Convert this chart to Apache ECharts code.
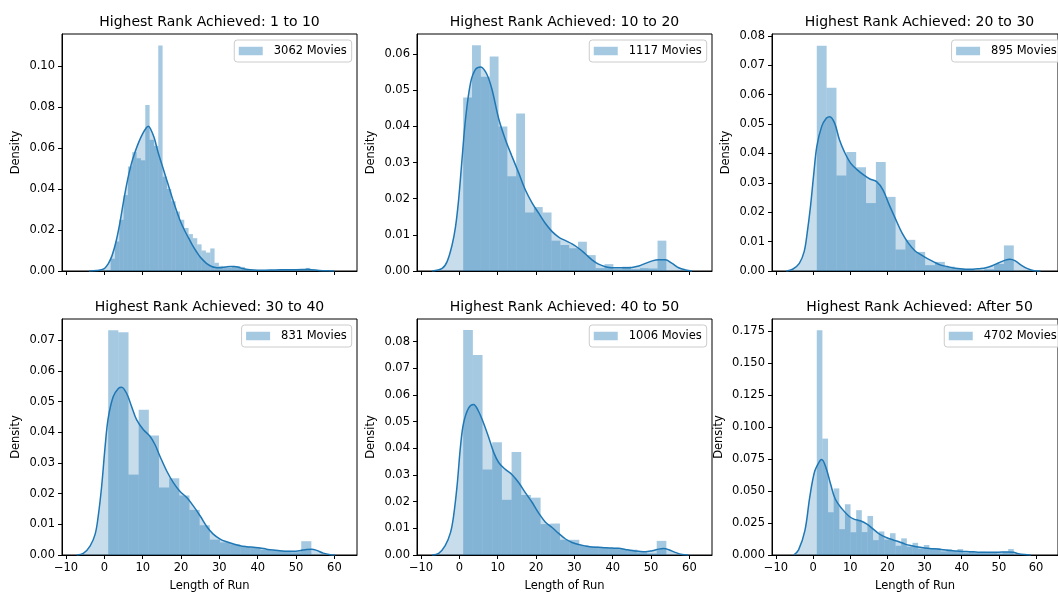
<!DOCTYPE html>
<html>
<head>
<meta charset="utf-8">
<script src="https://cdn.jsdelivr.net/npm/echarts@6/dist/echarts.min.js"></script>
<style>
  html, body { margin: 0; padding: 0; background: #fff; }
  #chart { width: 1058px; height: 593px; }
</style>
</head>
<body>
<div id="chart"></div>
<script>
// ---- data -------------------------------------------------------------
const panelTitles = [
  'Highest Rank Achieved: 1 to 10',
  'Highest Rank Achieved: 10 to 20',
  'Highest Rank Achieved: 20 to 30',
  'Highest Rank Achieved: 30 to 40',
  'Highest Rank Achieved: 40 to 50',
  'Highest Rank Achieved: After 50'
];
const legendLabels = ['3062 Movies', '1117 Movies', '895 Movies', '831 Movies', '1006 Movies', '4702 Movies'];

// histogram bin range per panel (equal-width bins between lo and hi)
const binLo = [0.5, 1, 1, 1, 1, 1];
const binHi = [54.74, 54, 54, 54, 54, 54];

// histogram densities per bin
const hist1 = [0.0005, 0.006, 0.0144, 0.025, 0.037, 0.051, 0.058, 0.055, 0.054, 0.081,
  0.064, 0.061, 0.110, 0.046, 0.040, 0.034, 0.029, 0.025, 0.021, 0.018,
  0.016, 0.013, 0.010, 0.009, 0.011, 0.004, 0.0025, 0.0018, 0.0015, 0.002,
  0.0024, 0.002, 0.0008, 0.0005, 0.0004, 0.0003, 0.0003, 0.0002, 0.0004, 0.0005,
  0.0006, 0.0005, 0.0006, 0.0007, 0.0005, 0.0004, 0.0015, 0.0003];
const hist2 = [0.048, 0.0625, 0.0538, 0.0594, 0.040, 0.0262, 0.0436, 0.0162, 0.0177, 0.0162,
  0.0084, 0.0072, 0.0063, 0.0081, 0.0044, 0.0008, 0.0019, 0.0005, 0.0012, 0.0005,
  0.0008, 0.0007, 0.0084];
const hist3 = [0.0766, 0.0623, 0.0325, 0.0405, 0.0353, 0.0231, 0.0371, 0.0252, 0.0073, 0.0106,
  0.0065, 0.002, 0.0031, 0.0015, 0.0009, 0.0006, 0.0, 0.0006, 0.0024, 0.0087];
const hist4 = [0.0732, 0.0726, 0.0262, 0.0473, 0.0389, 0.0220, 0.0250, 0.0194, 0.0147, 0.0097,
  0.0050, 0.0041, 0.0035, 0.0028, 0.0024, 0.0017, 0.0015, 0.0014, 0.0009, 0.0045];
const hist5 = [0.0844, 0.075, 0.0321, 0.0423, 0.0207, 0.0386, 0.0225, 0.0215, 0.0116, 0.0118,
  0.0057, 0.0057, 0.0035, 0.0032, 0.0029, 0.0027, 0.0022, 0.002, 0.001, 0.0006, 0.0053];
const hist6 = [0.1755, 0.0909, 0.0334, 0.052, 0.0202, 0.0396, 0.0178, 0.035, 0.0179, 0.0305,
  0.0116, 0.0184, 0.012, 0.017, 0.0072, 0.013, 0.0065, 0.0095, 0.005, 0.0078,
  0.0055, 0.0054, 0.0028, 0.0045, 0.003, 0.0047, 0.0018, 0.0028, 0.002, 0.0025,
  0.0016, 0.0016, 0.0012, 0.0025, 0.0047];

// kernel density estimate, [length of run, density]
const kde1 = [[-4,0],[-2,0.0002],[0,0.0012],[1,0.0035],[2,0.0075],[3,0.014],[4,0.023],[5,0.034],
  [6,0.044],[7,0.052],[8,0.058],[9,0.063],[10,0.067],[11,0.070],[11.5,0.0706],[12,0.0695],
  [13,0.065],[14,0.058],[15,0.052],[16,0.046],[17,0.040],[18,0.034],[19,0.0285],[20,0.0235],
  [21,0.0195],[22,0.016],[23,0.0125],[24,0.0095],[25,0.0068],[26,0.0048],[27,0.0032],[28,0.0022],
  [29,0.0017],[30,0.0016],[31,0.0018],[32,0.0021],[33,0.0022],[34,0.0022],[35,0.0018],[36,0.0012],
  [38,0.0006],[40,0.0004],[42,0.0004],[44,0.0005],[46,0.0006],[48,0.0006],[50,0.0006],[52,0.0007],
  [53,0.0008],[54,0.0006],[56,0.0003],[58,0.0001],[60,0]];
const kde2 = [[-7.1,0],[-4.5,0.0007],[-3.2,0.0026],[-1.9,0.0072],[-1.0,0.0123],[-0.2,0.0197],
  [0.7,0.031],[1.6,0.042],[2.9,0.052],[4.2,0.0558],[5.6,0.0565],[7.2,0.0544],[8.5,0.0503],
  [10.3,0.042],[12.0,0.0364],[13.7,0.0318],[15.5,0.0271],[17.2,0.0225],[19.0,0.0188],[20.7,0.016],
  [22.4,0.0132],[24.2,0.0109],[25.9,0.0094],[27.7,0.0084],[29.4,0.0075],[31.1,0.0063],[32.9,0.0047],
  [34.6,0.0031],[36.3,0.0019],[38.1,0.0012],[39.8,0.0009],[41.6,0.0009],[43.3,0.0009],[45.0,0.001],
  [46.8,0.0014],[48.5,0.0021],[50.3,0.0028],[52.0,0.0031],[53.7,0.0031],[55.5,0.0021],[57.2,0.0009],
  [59.0,0.0003],[60.7,0]];
const kde3 = [[-7.2,0],[-5.5,0.0006],[-3.7,0.0026],[-2.4,0.0066],[-1.6,0.0128],[-0.7,0.0219],
  [0.2,0.0332],[1.0,0.0423],[2.3,0.0491],[3.6,0.052],[4.5,0.0525],[5.8,0.0503],[7.1,0.0446],
  [8.4,0.0406],[10.1,0.0367],[11.9,0.0344],[13.6,0.0327],[15.3,0.0313],[17.1,0.0304],[18.8,0.0276],
  [20.5,0.0225],[22.3,0.0174],[24.0,0.0128],[25.7,0.0094],[27.4,0.0069],[29.2,0.0054],[30.9,0.0041],
  [32.6,0.003],[34.4,0.002],[36.1,0.0015],[37.8,0.001],[39.6,0.0008],[41.3,0.0006],[43.0,0.0006],
  [44.8,0.0008],[46.5,0.0011],[48.2,0.0018],[50.0,0.0028],[51.7,0.0037],[53.0,0.004],[54.3,0.0035],
  [56.0,0.002],[57.7,0.0008],[59.5,0.0001],[61.2,0]];
const kde4 = [[-7.2,0],[-5.5,0.0005],[-3.7,0.003],[-2.4,0.0068],[-1.6,0.0127],[-0.7,0.0225],
  [0.2,0.0354],[1.0,0.0446],[2.3,0.0516],[3.7,0.0543],[4.5,0.0547],[5.8,0.0527],[7.1,0.0484],
  [8.4,0.0441],[10.2,0.0408],[11.9,0.0387],[13.2,0.036],[14.5,0.0322],[16.3,0.0273],[18.0,0.0236],
  [19.7,0.0208],[21.5,0.0187],[23.2,0.016],[25.0,0.0127],[26.7,0.0093],[28.4,0.0068],[30.2,0.0052],
  [31.9,0.0043],[33.7,0.0036],[35.4,0.003],[37.1,0.0027],[38.9,0.0025],[40.6,0.0023],[42.3,0.0019],
  [44.1,0.0016],[45.8,0.0014],[47.6,0.0012],[49.3,0.0012],[51.0,0.0014],[52.8,0.0018],[54.1,0.0019],
  [55.4,0.0015],[57.1,0.0006],[58.9,0.0001],[60.2,0]];
const kde5 = [[-7.1,0],[-5.4,0.0006],[-3.7,0.0035],[-2.3,0.0085],[-1.5,0.0147],[-0.6,0.0259],
  [0.3,0.0408],[1.1,0.0495],[2.4,0.0551],[3.7,0.0564],[5.0,0.0539],[6.3,0.0495],[7.7,0.0439],
  [9.0,0.0383],[10.3,0.0346],[12.0,0.0321],[13.7,0.0302],[15.5,0.0271],[17.2,0.0234],[19.0,0.0197],
  [20.7,0.0157],[22.4,0.0124],[24.2,0.0103],[25.9,0.0081],[27.7,0.006],[29.4,0.0047],[31.1,0.0039],
  [32.9,0.0034],[34.6,0.003],[36.3,0.0029],[38.1,0.0027],[39.8,0.0026],[41.6,0.0025],[43.3,0.0021],
  [45.0,0.0017],[46.8,0.0014],[48.5,0.0012],[50.3,0.0016],[52.0,0.0022],[53.3,0.0024],[54.6,0.002],
  [56.3,0.001],[58.1,0.0002],[59.8,0]];
const kde6 = [[-5.2,0],[-3.9,0.004],[-2.2,0.019],[-0.9,0.045],[0.4,0.065],[1.7,0.073],[2.3,0.0745],
  [3.5,0.068],[4.75,0.055],[6.0,0.0435],[7.8,0.036],[9.6,0.0305],[11.0,0.028],[12.7,0.0267],
  [14.5,0.0241],[16.2,0.0202],[17.9,0.0163],[19.7,0.0137],[21.4,0.0119],[23.1,0.0104],[24.8,0.0085],
  [26.6,0.0072],[28.3,0.0062],[30.0,0.0054],[31.8,0.0049],[33.5,0.0047],[35.2,0.0041],[37.0,0.0036],
  [38.7,0.0031],[40.4,0.0028],[42.2,0.0026],[43.9,0.0023],[45.6,0.0021],[47.4,0.0021],[49.1,0.0021],
  [50.8,0.0023],[52.6,0.0023],[53.9,0.0021],[55.2,0.001],[56.9,0.0003],[58.6,0]];

// axis ticks
const xTicks = [-10, 0, 10, 20, 30, 40, 50, 60];
const yTicks1 = [0, 0.02, 0.04, 0.06, 0.08, 0.10];
const yTicks2 = [0, 0.01, 0.02, 0.03, 0.04, 0.05, 0.06];
const yTicks3 = [0, 0.01, 0.02, 0.03, 0.04, 0.05, 0.06, 0.07, 0.08];
const yTicks4 = [0, 0.01, 0.02, 0.03, 0.04, 0.05, 0.06, 0.07];
const yTicks5 = [0, 0.01, 0.02, 0.03, 0.04, 0.05, 0.06, 0.07, 0.08];
const yTicks6 = [0, 0.025, 0.05, 0.075, 0.1, 0.125, 0.15, 0.175];
const yDecimals = [2, 2, 2, 2, 2, 3];
const yMax = [0.1156, 0.0656, 0.0806, 0.0769, 0.0885, 0.1843];
const xMin = -11.05, xMax = 65.9;

// ---- layout ----------------------------------------------------------
const FONT = 'DejaVu Sans';
const colLeft = [62, 417, 772];
const rowTop = [34, 319];
const W = 295, H = 237, CW = 1058;
const nameGaps = [40, 40, 40, 40, 40, 47];
const BAR_FILL = 'rgba(31,119,180,0.4)';
const KDE_FILL = 'rgba(31,119,180,0.25)';
const LINE = '#1f77b4';

const hists = [hist1, hist2, hist3, hist4, hist5, hist6];
const kdes = [kde1, kde2, kde3, kde4, kde5, kde6];
const yTickSets = [yTicks1, yTicks2, yTicks3, yTicks4, yTicks5, yTicks6];

function binsOf(i) {
  const h = hists[i];
  const w = (binHi[i] - binLo[i]) / h.length;
  return h.map((v, k) => [binLo[i] + k * w, binLo[i] + (k + 1) * w, v]);
}
const fmtX = v => (v < 0 ? '\u2212' + Math.abs(v) : String(v));

const grid = [], xAxis = [], yAxis = [], series = [], title = [], legend = [];
for (let i = 0; i < 6; i++) {
  const r = Math.floor(i / 3), c = i % 3;
  const left = colLeft[c], top = rowTop[r];
  grid.push({ left: left, top: top, width: W, height: H, show: true,
    borderColor: '#000', borderWidth: 1, backgroundColor: 'transparent', containLabel: false });
  xAxis.push({
    gridIndex: i, type: 'value', min: xMin, max: xMax,
    axisLine: { show: true, onZero: false, lineStyle: { color: '#000', width: 1 } },
    axisTick: { show: true, customValues: xTicks, length: 4, lineStyle: { color: '#000', width: 1 } },
    axisLabel: { show: r === 1, customValues: xTicks, formatter: fmtX, fontFamily: FONT,
      fontSize: 11.5, color: '#000', margin: 7 },
    splitLine: { show: false },
    name: r === 1 ? 'Length of Run' : '', nameLocation: 'middle', nameGap: 25,
    nameTextStyle: { fontFamily: FONT, fontSize: 11.5, color: '#000' }
  });
  yAxis.push({
    gridIndex: i, type: 'value', min: 0, max: yMax[i],
    axisLine: { show: true, onZero: false, lineStyle: { color: '#000', width: 1 } },
    axisTick: { show: true, customValues: yTickSets[i], length: 4, lineStyle: { color: '#000', width: 1 } },
    axisLabel: { customValues: yTickSets[i], formatter: v => v.toFixed(yDecimals[i]),
      fontFamily: FONT, fontSize: 11.5, color: '#000', margin: 7 },
    splitLine: { show: false },
    name: 'Density', nameLocation: 'middle', nameGap: nameGaps[i], nameRotate: 90,
    nameTextStyle: { fontFamily: FONT, fontSize: 11.5, color: '#000' }
  });
  // histogram bars
  series.push({
    type: 'custom', name: legendLabels[i], xAxisIndex: i, yAxisIndex: i,
    data: binsOf(i), silent: true, clip: true, z: 2,
    itemStyle: { color: BAR_FILL },
    encode: { x: [0, 1], y: 2 },
    renderItem: function (params, api) {
      const a = api.coord([api.value(0), api.value(2)]);
      const b = api.coord([api.value(1), 0]);
      return { type: 'rect', shape: { x: a[0], y: a[1], width: b[0] - a[0], height: b[1] - a[1] },
        style: { fill: BAR_FILL } };
    }
  });
  // shaded density curve
  series.push({
    type: 'line', xAxisIndex: i, yAxisIndex: i, data: kdes[i], smooth: 0.35,
    symbol: 'none', silent: true, z: 3, clip: true,
    lineStyle: { color: LINE, width: 1.5 },
    areaStyle: { color: KDE_FILL, opacity: 1, origin: 'start' }
  });
  title.push({
    text: panelTitles[i], left: left + W / 2, top: top - 20, textAlign: 'center', padding: 0,
    textStyle: { fontFamily: FONT, fontSize: 14, fontWeight: 'normal', color: '#000', lineHeight: 16 }
  });
  legend.push({
    data: [{ name: legendLabels[i], itemStyle: { color: BAR_FILL } }],
    selectedMode: false, orient: 'vertical', icon: 'rect',
    right: CW - (left + W - 5.3), top: top + 6,
    itemWidth: 24, itemHeight: 8.5,
    padding: [5, 5, 5, 4.5],
    backgroundColor: 'rgba(255,255,255,0.8)', borderColor: '#cccccc', borderWidth: 1, borderRadius: 3,
    textStyle: { fontFamily: FONT, fontSize: 11.5, color: '#000', padding: [0, 0, 0, 6] }
  });
}

const chart = echarts.init(document.getElementById('chart'), null, { renderer: 'canvas' });
chart.setOption({ animation: false, backgroundColor: '#fff', title, legend, grid, xAxis, yAxis, series });
</script>
</body>
</html>
